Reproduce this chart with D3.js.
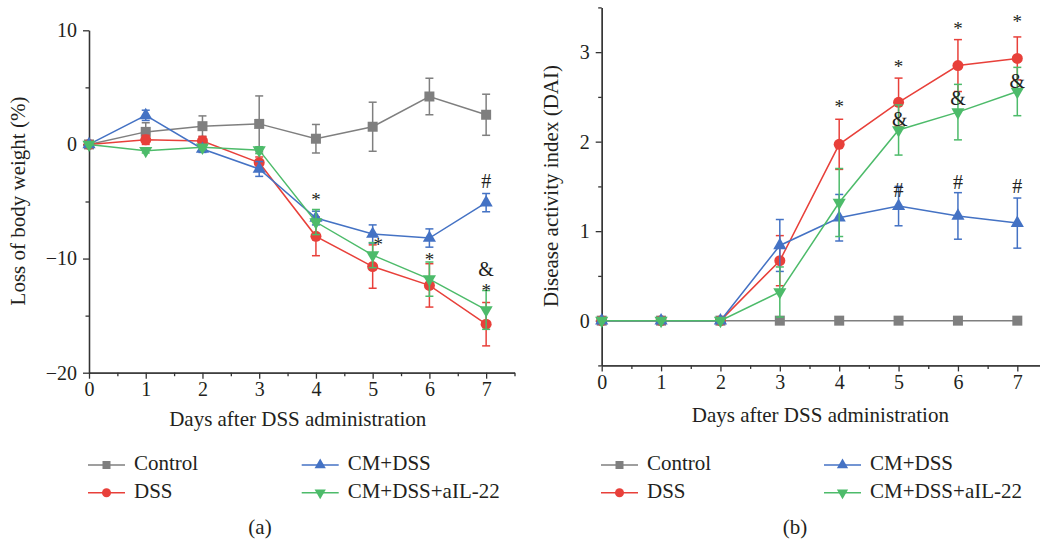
<!DOCTYPE html>
<html><head><meta charset="utf-8">
<script src="https://cdn.jsdelivr.net/npm/d3@7"></script>
<style>body{margin:0;background:#fff}svg{display:block}text{font-family:"Liberation Serif","DejaVu Serif",serif;fill:#231f20}</style>
</head><body><svg id="c" width="1040" height="546"></svg>
<script>
const days = [0,1,2,3,4,5,6,7];
const seriesNames = ["Control","DSS","CM+DSS","CM+DSS+aIL-22"];
const seriesColors = ["#7f7f7f","#e8403a","#4472c4","#4dbb6a"];
const seriesSymbols = ["square","circle","triangle","triangleDown"];

// Panel (a): loss of body weight (%)
const weightControl = [0, 1.1, 1.6, 1.8, 0.5, 1.55, 4.2, 2.6];
const weightControlErr = [0, 0.8, 0.9, 2.45, 1.25, 2.15, 1.6, 1.8];
const weightDSS = [0, 0.4, 0.3, -1.6, -8.05, -10.7, -12.35, -15.75];
const weightDSSErr = [0, 0.4, 0.4, 0.5, 1.7, 1.9, 1.9, 1.9];
const weightCM = [0, 2.55, -0.4, -2.15, -6.45, -7.85, -8.2, -5.1];
const weightCMErr = [0, 0.45, 0.3, 0.65, 0.6, 0.8, 0.8, 0.8];
const weightAIL = [0, -0.55, -0.25, -0.5, -6.8, -9.7, -11.8, -14.5];
const weightAILErr = [0, 0.2, 0.2, 0.3, 1.1, 1.1, 1.5, 1.7];
const weightTicks = [10, 0, -10, -20];
const weightMinor = [5, -5, -15];
const weightNotes = [
  {t:"*", x:4, y:-4.55},{t:"*", x:5.1, y:-8.5},{t:"*", x:6, y:-9.76},
  {t:"&", x:7, y:-10.9},{t:"*", x:7, y:-12.5},{t:"#", x:7, y:-3.23}];

// Panel (b): disease activity index
const daiControl = [0, 0, 0, 0, 0, 0, 0, 0];
const daiControlErr = [0, 0, 0, 0, 0, 0, 0, 0];
const daiDSS = [0, 0, 0, 0.67, 1.97, 2.44, 2.85, 2.93];
const daiDSSErr = [0, 0, 0, 0.28, 0.28, 0.27, 0.29, 0.24];
const daiCM = [0, 0, 0, 0.84, 1.15, 1.28, 1.17, 1.09];
const daiCMErr = [0, 0, 0, 0.29, 0.26, 0.22, 0.26, 0.28];
const daiAIL = [0, 0, 0, 0.32, 1.32, 2.13, 2.33, 2.56];
const daiAILErr = [0, 0, 0, 0.28, 0.38, 0.28, 0.31, 0.27];
const daiTicks = [0, 1, 2, 3];
const daiMinor = [-0.5, 0.5, 1.5, 2.5, 3.5];
const daiNotes = [
  {t:"*", x:4, y:2.43},{t:"*", x:5, y:2.88},{t:"*", x:6, y:3.30},{t:"*", x:7, y:3.38},
  {t:"&", x:5.02, y:2.25},{t:"&", x:6, y:2.49},{t:"&", x:7, y:2.68},
  {t:"#", x:5, y:1.46},{t:"#", x:6, y:1.55},{t:"#", x:7, y:1.50}];

const xMinor = [0.5,1.5,2.5,3.5,4.5,5.5,6.5,7.5];
const xTitle = "Days after DSS administration";

const svg = d3.select("#c");
const symMap = {square:d3.symbolSquare, circle:d3.symbolCircle, triangle:d3.symbolTriangle, triangleDown:d3.symbolTriangle};

function marker(g, type, x, y, color, size) {
  const p = g.append("path").attr("d", d3.symbol(symMap[type], size)())
    .attr("fill", color);
  p.attr("transform", `translate(${x},${y})` + (type==="triangleDown" ? " rotate(180)" : ""));
}

function panel(cfg) {
  const g = svg.append("g");
  const x = d3.scaleLinear().domain([0, 7.5]).range(cfg.xr);
  const y = d3.scaleLinear().domain(cfg.yd).range(cfg.yr);
  const axisColor = "#333";
  const gx = g.append("g").attr("transform", `translate(0,${cfg.yr[0]})`)
    .call(d3.axisBottom(x).tickValues(days).tickSize(6).tickSizeOuter(0).tickFormat(d3.format("d")));
  g.append("g").attr("transform", `translate(0,${cfg.yr[0]})`)
    .call(d3.axisBottom(x).tickValues(xMinor).tickSize(3.5).tickSizeOuter(0).tickFormat(""));
  const gy = g.append("g").attr("transform", `translate(${cfg.xr[0]},0)`)
    .call(d3.axisLeft(y).tickValues(cfg.ticks).tickSize(6).tickSizeOuter(0).tickFormat(d => d < 0 ? "\u2212" + Math.abs(d) : d));
  g.append("g").attr("transform", `translate(${cfg.xr[0]},0)`)
    .call(d3.axisLeft(y).tickValues(cfg.minor).tickSize(3.5).tickSizeOuter(0).tickFormat(""));
  g.selectAll(".domain, .tick line").attr("stroke", axisColor).attr("stroke-width", 1.3);
  gx.selectAll("text").attr("font-size", 20).attr("dy", "0").attr("y", 9).attr("dominant-baseline","hanging").style("font-family","Liberation Serif").attr("fill","#231f20");
  gy.selectAll("text").attr("font-size", 20).attr("x", -12).style("font-family","Liberation Serif").attr("fill","#231f20");
  g.append("text").attr("x", (cfg.xr[0] + x(7.5)) / 2 - 4).attr("y", cfg.xTitleY)
    .attr("text-anchor","middle").attr("dominant-baseline","middle").attr("font-size", 21).text(xTitle);
  g.append("text").attr("transform", `translate(${cfg.yTitleX},${cfg.yTitleY}) rotate(-90)`)
    .attr("text-anchor","middle").attr("dominant-baseline","middle").attr("font-size", 21).text(cfg.yTitle);
  const line = d3.line().x((d,i) => x(days[i])).y(d => y(d));
  cfg.series.forEach((s, k) => {
    const col = seriesColors[k];
    g.append("path").attr("d", line(s.v)).attr("fill","none").attr("stroke", col).attr("stroke-width", 1.5);
    s.v.forEach((v, i) => {
      const e = s.e[i];
      if (e > 0) {
        const cx = x(days[i]);
        g.append("line").attr("x1",cx).attr("x2",cx).attr("y1",y(v-e)).attr("y2",y(v+e)).attr("stroke",col).attr("stroke-width",1.5);
        [v-e, v+e].forEach(w => g.append("line").attr("x1",cx-4).attr("x2",cx+4).attr("y1",y(w)).attr("y2",y(w)).attr("stroke",col).attr("stroke-width",1.5));
      }
    });
    s.v.forEach((v, i) => marker(g, seriesSymbols[k], x(days[i]), y(v), col, k===0 ? 100 : (k===1 ? 95 : 75)));
  });
  cfg.notes.forEach(n => {
    const off = n.t === "*" ? 10 : 7;
    g.append("text").attr("x", x(n.x)).attr("y", y(n.y) + off).attr("text-anchor","middle")
      .attr("font-size", n.t === "*" ? 19 : 20).text(n.t);
  });
  const rows = [[0,1],[2,3]];
  cfg.legend.forEach((lx, col) => {
    rows[col].forEach((k, r) => {
      const ly = 465 + r * 27.7;
      g.append("line").attr("x1", lx).attr("x2", lx + 37).attr("y1", ly).attr("y2", ly)
        .attr("stroke", seriesColors[k]).attr("stroke-width", 1.5);
      marker(g, seriesSymbols[k], lx + 18.5, ly, seriesColors[k], k===0 ? 64 : (k===1 ? 64 : 55));
      g.append("text").attr("x", lx + 46).attr("y", ly).attr("dominant-baseline","middle")
        .attr("font-size", 21).text(seriesNames[k]);
    });
  });
  g.append("text").attr("x", cfg.labelX).attr("y", 529).attr("text-anchor","middle")
    .attr("dominant-baseline","middle").attr("font-size", 21).text(cfg.label);
}

panel({
  xr:[89, 514.5], yd:[-20, 10], yr:[372.7, 30.3], ticks:weightTicks, minor:weightMinor,
  yTitle:"Loss of body weight (%)", yTitleX:20, yTitleY:201, xTitleY:421,
  series:[{v:weightControl,e:weightControlErr},{v:weightDSS,e:weightDSSErr},{v:weightCM,e:weightCMErr},{v:weightAIL,e:weightAILErr}],
  notes:weightNotes, legend:[88, 301.7], label:"(a)", labelX:260
});
panel({
  xr:[601.7, 1047], yd:[-0.5, 3.5], yr:[365.4, 7.4], ticks:daiTicks, minor:daiMinor,
  yTitle:"Disease activity index (DAI)", yTitleX:553, yTitleY:186, xTitleY:417,
  series:[{v:daiControl,e:daiControlErr},{v:daiDSS,e:daiDSSErr},{v:daiCM,e:daiCMErr},{v:daiAIL,e:daiAILErr}],
  notes:daiNotes, legend:[601, 824], label:"(b)", labelX:795
});
</script></body></html>
